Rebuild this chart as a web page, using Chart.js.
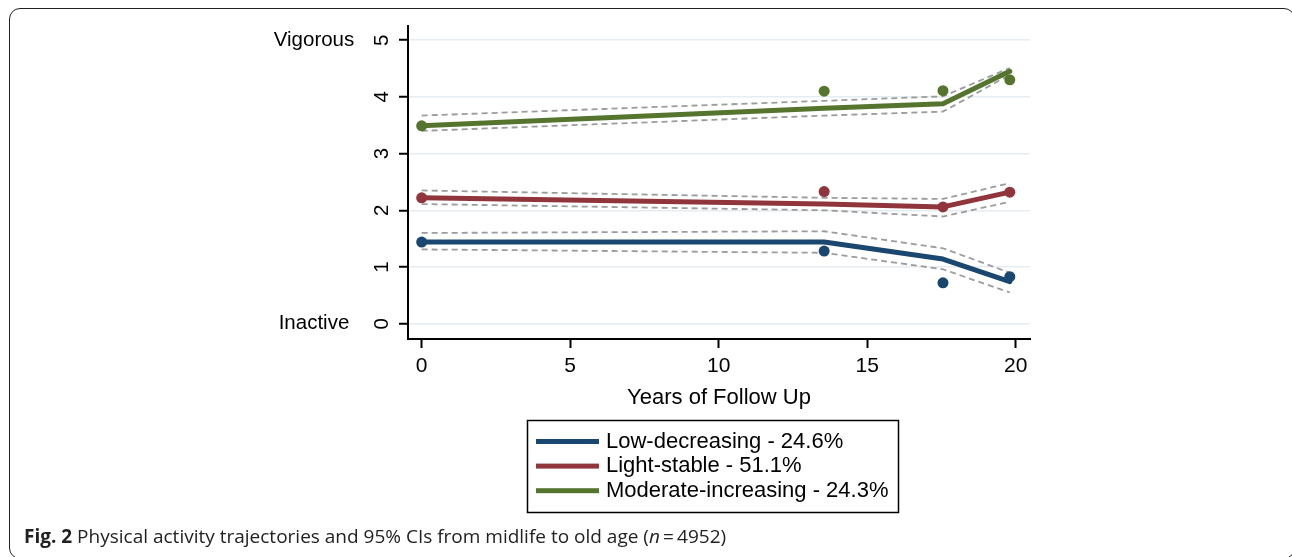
<!DOCTYPE html>
<html>
<head>
<meta charset="utf-8">
<script src="https://cdn.jsdelivr.net/npm/chart.js@4/dist/chart.umd.min.js"></script>
<style>
  html, body { margin: 0; padding: 0; background: #fff; }
  #wrap { position: relative; width: 1292px; height: 557px; overflow: hidden; }
  #chart { position: absolute; left: 0; top: 0; }
  #frame {
    position: absolute; left: 9px; top: 8px; width: 1286px; height: 551px;
    border: 1.5px solid #222; border-radius: 11px; box-sizing: border-box;
  }
  #caption {
    position: absolute; left: 24px; top: 523px;
    font-family: "Open Sans", sans-serif; font-size: 19px; color: #222;
    white-space: nowrap;
  }
  #caption b { font-weight: 700; }
</style>
</head>
<body>
<div id="wrap">
  <canvas id="chart" width="1292" height="557"></canvas>
  <div id="frame"></div>
  <div id="caption"><b>Fig. 2</b> Physical activity trajectories and 95% CIs from midlife to old age (<i>n</i>&#8201;=&#8201;4952)</div>
</div>
<script>
// years of follow up for each survey wave
const years = [0, 13.55, 17.55, 19.8];

const groups = ["Low-decreasing - 24.6%", "Light-stable - 51.1%", "Moderate-increasing - 24.3%"];
const colors = ["#1a476f", "#90353b", "#55752f"];

// fitted trajectories
const lowFit = [1.44, 1.44, 1.14, 0.74];
const lightFit = [2.22, 2.11, 2.06, 2.32];
const modFit = [3.49, 3.80, 3.88, 4.45];

// 95% CI bounds
const lowUpper = [1.60, 1.63, 1.33, 0.90];
const lowLower = [1.31, 1.25, 0.96, 0.55];
const lightUpper = [2.35, 2.22, 2.20, 2.48];
const lightLower = [2.11, 2.00, 1.89, 2.15];
const modUpper = [3.67, 3.93, 4.01, 4.51];
const modLower = [3.40, 3.67, 3.74, 4.39];

// observed means
const lowObs = [1.44, 1.28, 0.72, 0.83];
const lightObs = [2.22, 2.33, 2.06, 2.32];
const modObs = [3.49, 4.10, 4.11, 4.30];

const xTicks = [0, 5, 10, 15, 20];
const yTicks = [0, 1, 2, 3, 4, 5];
const yLabels = { 5: "Vigorous", 0: "Inactive" };

const FONT = "'Liberation Sans', Arial, sans-serif";

const pts = arr => arr.map((v, i) => ({ x: years[i], y: v }));

const fits = [lowFit, lightFit, modFit];
const uppers = [lowUpper, lightUpper, modUpper];
const lowers = [lowLower, lightLower, modLower];
const obs = [lowObs, lightObs, modObs];

const datasets = [];
// first dataset is drawn on top, so dots first, then lines, then CIs
obs.forEach((o, i) => {
  datasets.push({
    data: pts(o), showLine: false, pointRadius: 5.5, pointHoverRadius: 5.5,
    pointBackgroundColor: colors[i], pointBorderWidth: 0
  });
});
fits.forEach((f, i) => {
  datasets.push({
    label: groups[i], data: pts(f), borderColor: colors[i], borderWidth: 5,
    pointRadius: 0, borderCapStyle: "round", borderJoinStyle: "round", tension: 0
  });
});
[uppers, lowers].forEach(set => {
  set.forEach(c => {
    datasets.push({
      data: pts(c), borderColor: "#9c9c9c", borderWidth: 1.8, borderDash: [6, 4],
      pointRadius: 0, tension: 0
    });
  });
});

const extras = {
  id: "extras",
  afterDraw(chart) {
    const ctx = chart.ctx;
    const y = chart.scales.y;
    ctx.save();
    ctx.fillStyle = "#000";
    ctx.font = "20.5px " + FONT;
    ctx.textAlign = "center";
    ctx.textBaseline = "middle";
    // rotated y tick labels + end labels
    y.ticks.forEach(t => {
      const py = y.getPixelForValue(t.value);
      ctx.save();
      ctx.translate(382, py);
      ctx.rotate(-Math.PI / 2);
      ctx.fillText(String(t.value), 0, 0);
      ctx.restore();
      if (yLabels[t.value]) ctx.fillText(yLabels[t.value], 314, py);
    });

    // legend box
    ctx.lineWidth = 1.5;
    ctx.strokeStyle = "#000";
    ctx.strokeRect(527.5, 420.5, 371, 92);
    ctx.textAlign = "left";
    ctx.font = "22px " + FONT;
    groups.forEach((g, i) => {
      const ry = 441.5 + i * 24.6;
      ctx.fillStyle = colors[i];
      ctx.fillRect(536, ry - 2.5, 63, 5);
      ctx.fillStyle = "#000";
      ctx.fillText(g, 606, ry);
    });
    ctx.restore();
  }
};

new Chart(document.getElementById("chart"), {
  type: "line",
  data: { datasets },
  plugins: [extras],
  options: {
    responsive: false,
    animation: false,
    layout: { padding: { left: 0, right: 262, top: 26, bottom: 146 } },
    plugins: { legend: { display: false }, tooltip: { enabled: false } },
    scales: {
      x: {
        type: "linear", min: -0.46, max: 20.48,
        afterBuildTicks: s => { s.ticks = xTicks.map(v => ({ value: v })); },
        afterFit: s => { s.height = 72; },
        grid: { drawOnChartArea: false, tickLength: 9, tickColor: "#000", tickWidth: 2 },
        border: { color: "#000", width: 2 },
        ticks: { color: "#000", font: { size: 21, family: FONT }, padding: 6, maxRotation: 0 },
        title: { display: true, text: "Years of Follow Up", color: "#000", font: { size: 22, family: FONT }, padding: 0 }
      },
      y: {
        min: -0.27, max: 5.25,
        afterBuildTicks: s => { s.ticks = yTicks.map(v => ({ value: v })); },
        afterFit: s => { s.width = 408; },
        grid: { color: "#e6edf2", lineWidth: 1.5, tickLength: 9, tickColor: "#000", tickWidth: 2 },
        border: { color: "#000", width: 2 },
        ticks: { display: false }
      }
    }
  }
});
</script>
</body>
</html>
